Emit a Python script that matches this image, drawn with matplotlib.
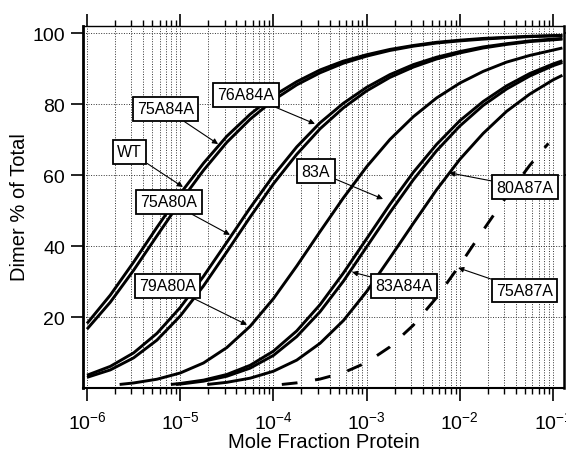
import numpy as np
import matplotlib
matplotlib.use('Agg')
import matplotlib.pyplot as plt
from matplotlib.ticker import LogLocator, NullFormatter, FixedLocator

plt.rcParams['font.family'] = ['Liberation Sans', 'DejaVu Sans']
plt.rcParams['mathtext.fontset'] = 'custom'
plt.rcParams['mathtext.rm'] = 'Liberation Sans'
plt.rcParams['mathtext.it'] = 'Liberation Sans:italic'
plt.rcParams['mathtext.bf'] = 'Liberation Sans:bold'

# ---------------- data (log10 of mole fraction, dimer %) ----------------
logx_full = [-6.0, -5.75, -5.5, -5.25, -5.0, -4.75, -4.5, -4.25, -4.0, -3.75,
             -3.5, -3.25, -3.0, -2.75, -2.5, -2.25, -2.0, -1.75, -1.5, -1.25,
             -1.0, -0.9]

y_75A84A = [18.2, 26.2, 35.5, 45.3, 54.8, 63.4, 71.0, 77.2, 82.4, 86.4, 89.7,
            92.2, 94.0, 95.5, 96.6, 97.5, 98.1, 98.6, 98.9, 99.2, 99.4, 99.45]
y_WT = [16.6, 24.2, 33.2, 42.9, 52.5, 61.4, 69.3, 75.8, 81.2, 85.5, 88.9,
        91.6, 93.6, 95.2, 96.4, 97.3, 97.9, 98.4, 98.8, 99.1, 99.3, 99.4]
y_76A84A = [3.6, 6.1, 9.9, 15.4, 22.7, 31.5, 41.1, 50.8, 59.9, 68.0, 74.8,
            80.3, 84.8, 88.4, 91.2, 93.3, 94.9, 96.2, 97.1, 97.9, 98.4, 98.6]
y_75A80A = [3.0, 5.1, 8.5, 13.5, 20.3, 28.8, 38.4, 48.2, 57.6, 65.9, 73.1,
            79.0, 83.8, 87.6, 90.5, 92.8, 94.5, 95.9, 96.9, 97.7, 98.2, 98.4]

logx_79A80A = [-5.65, -5.5, -5.25, -5.0, -4.75, -4.5, -4.25, -4.0, -3.75, -3.5,
               -3.25, -3.0, -2.75, -2.5, -2.25, -2.0, -1.75, -1.5, -1.25, -1.0, -0.9]
y_79A80A = [1.0, 1.42, 2.47, 4.23, 7.06, 11.4, 17.4, 25.2, 34.4, 44.1,
            53.6, 62.4, 70.1, 76.5, 81.8, 86.0, 89.3, 91.9, 93.8, 95.3, 95.9]

logx_83A = [-5.10, -5.0, -4.75, -4.5, -4.25, -4.0, -3.75, -3.5, -3.25, -3.0,
            -2.75, -2.5, -2.25, -2.0, -1.75, -1.5, -1.25, -1.0, -0.9]
y_83A = [1.0, 1.28, 2.22, 3.81, 6.40, 10.4, 16.1, 23.5, 32.4, 42.1,
         51.8, 60.8, 68.7, 75.4, 80.8, 85.2, 88.7, 91.4, 92.3]

logx_83A84A = [-5.04, -5.0, -4.75, -4.5, -4.25, -4.0, -3.75, -3.5, -3.25, -3.0,
               -2.75, -2.5, -2.25, -2.0, -1.75, -1.5, -1.25, -1.0, -0.9]
y_83A84A = [1.0, 1.10, 1.92, 3.31, 5.60, 9.19, 14.5, 21.5, 30.1, 39.8,
            49.5, 58.7, 66.9, 73.9, 79.7, 84.3, 88.0, 90.9, 91.8]

logx_80A87A = [-4.71, -4.5, -4.25, -4.0, -3.75, -3.5, -3.25, -3.0, -2.75, -2.5,
               -2.25, -2.0, -1.75, -1.5, -1.25, -1.0, -0.9]
y_80A87A = [1.0, 1.60, 2.77, 4.73, 7.86, 12.6, 19.0, 27.2, 36.7, 46.4,
            55.9, 64.5, 71.8, 78.0, 82.9, 86.9, 88.2]

logx_75A87A = [-3.91, -3.75, -3.5, -3.25, -3.0, -2.75, -2.5, -2.25, -2.0,
               -1.75, -1.5, -1.25, -1.05]
y_75A87A = [1.0, 1.45, 2.52, 4.31, 7.19, 11.6, 17.7, 25.5, 34.7,
            44.5, 54.0, 62.8, 69.0]

y_ticks = [20, 40, 60, 80, 100]

# label, box centre (x, y), arrow tip (x, y)
labels = ['75A84A', '76A84A', 'WT', '75A80A', '79A80A', '83A', '83A84A', '80A87A', '75A87A']
label_xy = [(6.95e-6, 78.7), (5.08e-5, 82.7), (2.86e-6, 66.6), (7.59e-6, 52.5),
            (7.31e-6, 28.9), (2.86e-4, 61.2), (2.49e-3, 28.9), (5.01e-2, 56.6),
            (4.94e-2, 27.5)]
tip_xy = [(2.55e-5, 68.8), (2.79e-4, 74.5), (1.07e-5, 56.7), (3.42e-5, 43.2),
          (5.21e-5, 17.8), (1.50e-3, 53.3), (6.97e-4, 32.7), (7.66e-3, 60.7),
          (9.57e-3, 33.9)]

# ---------------- figure ----------------
W, H = 566, 452
fig = plt.figure(figsize=(W / 100, H / 100), dpi=100)
ax = fig.add_axes([83 / W, 63 / H, 481 / W, 362 / H])

def lx(v):
    return 10.0 ** np.asarray(v)

lw = 2.1
solid = [(logx_full, y_75A84A), (logx_full, y_WT), (logx_full, y_76A84A),
         (logx_full, y_75A80A), (logx_79A80A, y_79A80A), (logx_83A, y_83A),
         (logx_83A84A, y_83A84A), (logx_80A87A, y_80A87A)]
for xs, ys in solid:
    ax.plot(lx(xs), ys, color='black', lw=lw, solid_capstyle='butt',
            solid_joinstyle='round', zorder=3)
ax.plot(lx(logx_75A87A), y_75A87A, color='black', lw=lw,
        dashes=(5.4, 6.1), dash_capstyle='butt', zorder=3)

ax.set_xscale('log')
ax.set_xlim(9.06e-7, 0.131)
ax.set_ylim(0, 102.1)

ax.xaxis.set_major_locator(LogLocator(base=10, numticks=12))
ax.xaxis.set_minor_locator(LogLocator(base=10, subs=np.arange(2, 10), numticks=12))
ax.xaxis.set_minor_formatter(NullFormatter())
ax.yaxis.set_major_locator(FixedLocator(y_ticks))

ax.grid(which='both', axis='x', color='0.2', lw=0.7, linestyle=(0, (1, 1.6)), zorder=1)
ax.grid(which='major', axis='y', color='0.2', lw=0.7, linestyle=(0, (1, 1.6)), zorder=1)

ax.tick_params(which='major', direction='out', length=9, width=1.2,
               top=True, right=True, labelsize=14)
ax.tick_params(which='minor', direction='out', length=4.5, width=1.0,
               top=True, right=False)
ax.tick_params(axis='x', which='major', pad=7)
ax.tick_params(axis='y', which='major', pad=4)

for side, w in [('left', 2.0), ('bottom', 1.5), ('top', 1.0), ('right', 1.8)]:
    ax.spines[side].set_linewidth(w)

fig.text(323.5 / W, 4 / H, 'Mole Fraction Protein', fontsize=14.5,
         ha='center', va='baseline')
fig.text(20 / W, 1 - 207 / H, 'Dimer % of Total', fontsize=14.5,
         ha='center', va='center', rotation=90)

for lab, txy, pxy in zip(labels, label_xy, tip_xy):
    ax.annotate(lab, xy=pxy, xytext=txy, ha='center', va='center', fontsize=11.5,
                bbox=dict(boxstyle='square,pad=0.28', fc='white', ec='black', lw=1.3),
                arrowprops=dict(arrowstyle='-|>', color='black', lw=0.8,
                                mutation_scale=8, shrinkA=0, shrinkB=0),
                zorder=5)

fig.savefig('out.png', dpi=100)
